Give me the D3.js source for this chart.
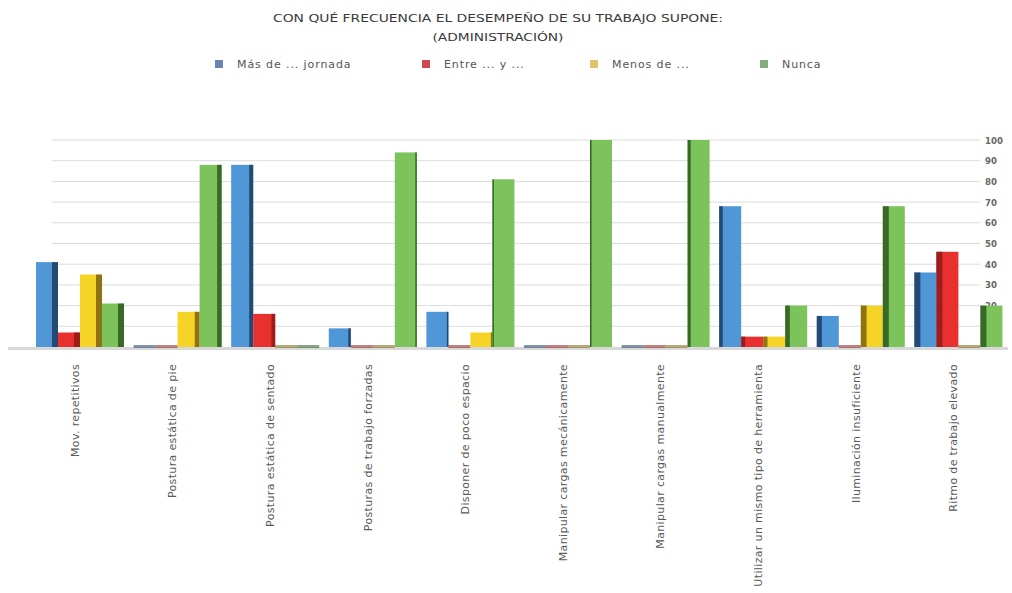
<!DOCTYPE html>
<html><head><meta charset="utf-8">
<script src="https://cdn.jsdelivr.net/npm/d3@7"></script>
<style>body{margin:0;background:#fff}svg{display:block}</style>
</head><body>
<svg id="c" width="1012" height="593"></svg>
<script>
const categories = ["Mov. repetitivos","Postura estática de pie","Postura estática de sentado","Posturas de trabajo forzadas","Disponer de poco espacio","Manipular cargas mecánicamente","Manipular cargas manualmente","Utilizar un mismo tipo de herramienta","Iluminación insuficiente","Ritmo de trabajo elevado"];
const seriesNames = ["Más de ... jornada","Entre ... y ...","Menos de ...","Nunca"];
const masDe   = [41, 0, 88, 9, 17, 0, 0, 68, 15, 36];
const entre   = [7, 0, 16, 0, 0, 0, 0, 5, 0, 46];
const menosDe = [35, 17, 0, 0, 7, 0, 0, 5, 20, 0];
const nunca   = [21, 88, 0, 94, 81, 100, 100, 20, 68, 20];
const yTicks = [10,20,30,40,50,60,70,80,90,100];
const titleLines = ["CON QUÉ FRECUENCIA EL DESEMPEÑO DE SU TRABAJO SUPONE:","(ADMINISTRACIÓN)"];

const colors = ["#4f97d6","#e8312f","#f6d327","#7cc35c"];
const darks  = ["#1d3b63","#8c1b17","#7d6210","#2d5a1d"];
const legendColors = ["#6a86b0","#d2474b","#dcc46e","#86ab7c"];
const values = [masDe, entre, menosDe, nunca];

const svg = d3.select("#c");
const font = "'DejaVu Sans Condensed','DejaVu Sans',sans-serif";
const font2 = "'DejaVu Sans',sans-serif";

// title
svg.append("text").attr("x",498).attr("y",22).attr("text-anchor","middle")
  .attr("font-family",font).attr("font-size",11).attr("fill","#3a3a3a")
  .attr("textLength",450).attr("lengthAdjust","spacingAndGlyphs").text(titleLines[0]);
svg.append("text").attr("x",498).attr("y",41).attr("text-anchor","middle")
  .attr("font-family",font).attr("font-size",11).attr("fill","#3a3a3a")
  .attr("textLength",131).attr("lengthAdjust","spacingAndGlyphs").text(titleLines[1]);

// legend
const legX = [215, 422, 590, 760];
seriesNames.forEach((n,i)=>{
  const g = svg.append("g").attr("transform",`translate(${legX[i]},64)`);
  g.append("rect").attr("x",0).attr("y",-4).attr("width",8).attr("height",8).attr("fill",legendColors[i]);
  g.append("text").attr("x",22).attr("y",4).attr("font-family",font2).attr("font-size",11)
    .attr("letter-spacing",0.9).attr("fill","#555").text(n);
});

const x0 = d3.scaleBand().domain(categories).range([31.2,1007.2]).paddingInner(0.098).paddingOuter(0.049);
const x1 = d3.scaleBand().domain(d3.range(4)).range([0,x0.bandwidth()]);
const y = d3.scaleLinear().domain([0,100]).range([347,140]);

// gridlines
svg.append("g").selectAll("line").data(yTicks).join("line")
  .attr("x1",52).attr("x2",980).attr("y1",d=>y(d)).attr("y2",d=>y(d))
  .attr("stroke","#dcdcdc").attr("stroke-width",1);

// right axis tick labels
const axis = d3.axisRight(y).tickValues(yTicks).tickSize(0).tickPadding(0).tickFormat(d3.format("d"));
const ag = svg.append("g").attr("transform","translate(985,0)").call(axis);
ag.select(".domain").remove();
ag.selectAll("text").attr("font-family",font).attr("font-size",9.5).attr("font-weight","bold").attr("fill","#666");

// floor shadow
svg.append("line").attr("x1",8).attr("x2",1008).attr("y1",348.5).attr("y2",348.5)
  .attr("stroke","#c8c8c8").attr("stroke-width",3).attr("opacity",0.7);

// bars
const mid = 500;
categories.forEach((c,ci)=>{
  values.forEach((arr,si)=>{
    const v = arr[ci];
    const bx = x0(c) + x1(si);
    const bw = x1.bandwidth();
    const cx = bx + bw/2;
    if (v === 0) {
      svg.append("rect").attr("x",bx).attr("y",y(0)-2).attr("width",bw).attr("height",3)
        .attr("fill",darks[si]).attr("opacity",0.55);
      return;
    }
    const top = y(v), h = y(0)-y(v);
    svg.append("rect").attr("x",bx).attr("y",top).attr("width",bw).attr("height",h).attr("fill",colors[si]);
    const s = Math.max(1.5, Math.min(6, Math.abs(cx-mid)/450*7));
    const sx = cx < mid ? bx + bw - s : bx;
    svg.append("rect").attr("x",sx).attr("y",top).attr("width",s).attr("height",h).attr("fill",darks[si]).attr("opacity",0.85);
  });
});

// category labels
const xg = svg.append("g");
categories.forEach(c=>{
  xg.append("text")
    .attr("transform",`translate(${x0(c)+x0.bandwidth()/2-5},364) rotate(-90)`)
    .attr("text-anchor","end").attr("dy","0.35em")
    .attr("font-family",font2).attr("font-size",11).attr("letter-spacing",0.35)
    .attr("fill","#5a5a5a").text(c);
});
</script>
</body></html>
